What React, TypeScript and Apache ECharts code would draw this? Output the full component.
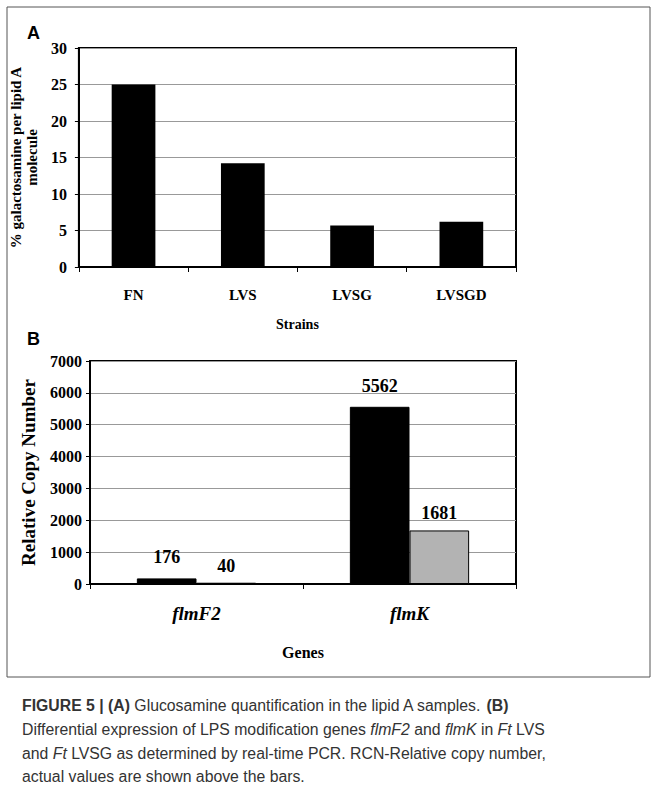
import React, { useEffect, useRef } from "react";
import * as echarts from "echarts";

const strains = ["FN", "LVS", "LVSG", "LVSGD"];
const galactosamine = [25, 14.2, 5.7, 6.2];
const genes = ["flmF2", "flmK"];
const lvsValues = [176, 5562];
const lvsgValues = [40, 1681];

const serif = "'Liberation Serif', 'DejaVu Serif', serif";
const sans = "'Liberation Sans', Arial, sans-serif";

export default function App() {
  const ref = useRef<HTMLDivElement>(null);
  useEffect(() => {
    const chart = echarts.init(ref.current!, null, { renderer: "svg" });
    const axisLbl = { fontFamily: serif, fontWeight: "bold" as const, fontSize: 16, color: "#000" };
    const plain = (v: number) => String(v);
    chart.setOption({
      animation: false,
      backgroundColor: "#fff",
      grid: [
        { left: 78, top: 48, width: 438, height: 219, show: true, borderColor: "#000", borderWidth: 2 },
        { left: 90, top: 361, width: 426, height: 223, show: true, borderColor: "#000", borderWidth: 2 },
      ],
      xAxis: [
        {
          gridIndex: 0, type: "category", data: strains,
          axisLine: { lineStyle: { color: "#000", width: 2 } },
          axisTick: { show: true, length: 5, lineStyle: { color: "#000" } },
          axisLabel: { ...axisLbl, fontSize: 15, margin: 20 },
          name: "Strains", nameLocation: "middle", nameGap: 50,
          nameTextStyle: { fontFamily: serif, fontWeight: "bold", fontSize: 14, color: "#000" },
        },
        {
          gridIndex: 1, type: "category", data: genes,
          axisLine: { lineStyle: { color: "#000", width: 2 } },
          axisTick: { show: true, length: 5, lineStyle: { color: "#000" } },
          axisLabel: { ...axisLbl, fontSize: 19, fontStyle: "italic", margin: 20 },
          name: "Genes", nameLocation: "middle", nameGap: 60,
          nameTextStyle: { fontFamily: serif, fontWeight: "bold", fontSize: 16, color: "#000" },
        },
      ],
      yAxis: [
        {
          gridIndex: 0, type: "value", min: 0, max: 30, interval: 5,
          axisLine: { show: true, lineStyle: { color: "#000", width: 2 } },
          axisTick: { show: true, length: 4, lineStyle: { color: "#000" } },
          axisLabel: { ...axisLbl, margin: 12, formatter: plain },
          splitLine: { lineStyle: { color: "#999" } },
          name: "% galactosamine per lipid A\nmolecule", nameLocation: "middle", nameGap: 30, nameRotate: 90,
          nameTextStyle: { fontFamily: serif, fontWeight: "bold", fontSize: 15, color: "#000", lineHeight: 16 },
        },
        {
          gridIndex: 1, type: "value", min: 0, max: 7000, interval: 1000,
          axisLine: { show: true, lineStyle: { color: "#000", width: 2 } },
          axisTick: { show: true, length: 4, lineStyle: { color: "#000" } },
          axisLabel: { ...axisLbl, margin: 8, formatter: plain },
          splitLine: { lineStyle: { color: "#999" } },
          name: "Relative Copy Number", nameLocation: "middle", nameGap: 52, nameRotate: 90,
          nameTextStyle: { fontFamily: serif, fontWeight: "bold", fontSize: 19, color: "#000" },
        },
      ],
      series: [
        {
          type: "bar", xAxisIndex: 0, yAxisIndex: 0, data: galactosamine, barWidth: "40%",
          itemStyle: { color: "#000" },
        },
        {
          type: "bar", xAxisIndex: 1, yAxisIndex: 1, data: lvsValues, barWidth: "28%", barGap: "0%",
          itemStyle: { color: "#000", borderColor: "#000", borderWidth: 1 },
          label: { show: true, position: "top", distance: 12, fontFamily: serif, fontWeight: "bold", fontSize: 18, color: "#000" },
        },
        {
          type: "bar", xAxisIndex: 1, yAxisIndex: 1, data: lvsgValues, barWidth: "28%", barGap: "0%",
          itemStyle: { color: "#b3b3b3", borderColor: "#000", borderWidth: 1 },
          label: { show: true, position: "top", distance: 8, fontFamily: serif, fontWeight: "bold", fontSize: 18, color: "#000" },
        },
      ],
      graphic: [
        { type: "line", shape: { x1: 7, y1: 7, x2: 650, y2: 7 }, style: { stroke: "#555", lineWidth: 1 } },
        { type: "line", shape: { x1: 7, y1: 7, x2: 7, y2: 677 }, style: { stroke: "#555", lineWidth: 1 } },
        { type: "line", shape: { x1: 650, y1: 7, x2: 650, y2: 677 }, style: { stroke: "#555", lineWidth: 1 } },
        { type: "line", shape: { x1: 7, y1: 677, x2: 650, y2: 677 }, style: { stroke: "#555", lineWidth: 1 } },
        { type: "text", left: 27, top: 24, style: { text: "A", font: `bold 18px ${sans}`, fill: "#000" } },
        { type: "text", left: 27, top: 330, style: { text: "B", font: `bold 18px ${sans}`, fill: "#000" } },
        {
          type: "text", left: 22, top: 694,
          style: {
            text:
              "{b|FIGURE 5 | (A)} Glucosamine quantification in the lipid A samples. {b|(B)}\n" +
              "Differential expression of LPS modification genes {i|flmF2} and {i|flmK} in {i|Ft} LVS\n" +
              "and {i|Ft} LVSG as determined by real-time PCR. RCN-Relative copy number,\n" +
              "actual values are shown above the bars.",
            font: `15.8px ${sans}`, fill: "#333", lineHeight: 23.7,
            rich: {
              b: { fontWeight: "bold", fontFamily: sans, fontSize: 15.8, fill: "#333", lineHeight: 23.7 },
              i: { fontStyle: "italic", fontFamily: sans, fontSize: 15.8, fill: "#333", lineHeight: 23.7 },
            },
          },
        },
      ],
    });
    return () => chart.dispose();
  }, []);
  return <div ref={ref} style={{ position: "absolute", left: 0, top: 0, width: 656, height: 793 }} />;
}
